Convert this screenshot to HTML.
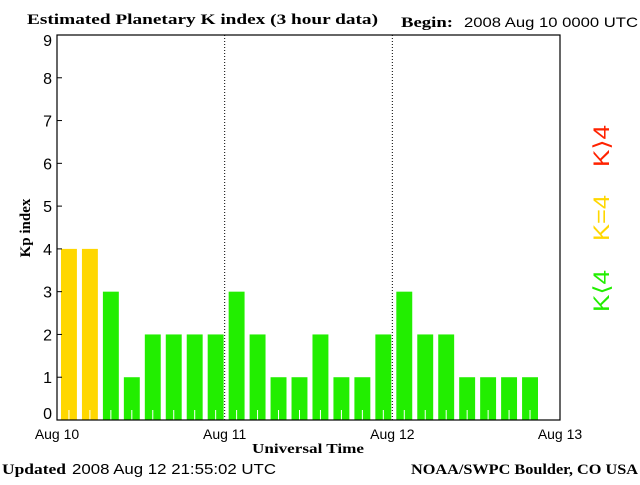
<!DOCTYPE html>
<html><head><meta charset="utf-8"><style>
body{margin:0;background:#fff;}
svg text{font-family:"Liberation Serif",serif;}
</style></head><body>
<svg width="640" height="480" xmlns="http://www.w3.org/2000/svg">
<rect width="640" height="480" fill="#fff"/>
<text x="27" y="24" font-size="15" font-weight="bold" textLength="351" lengthAdjust="spacingAndGlyphs">Estimated Planetary K index (3 hour data)</text>
<text x="401" y="27" font-size="15" font-weight="bold" textLength="52" lengthAdjust="spacingAndGlyphs">Begin:</text>
<text x="464" y="27" font-size="14" textLength="174" lengthAdjust="spacingAndGlyphs" style="font-family:'Liberation Sans',sans-serif">2008 Aug 10 0000 UTC</text>
<g id="bars"></g>
<g id="axes"></g>
<text x="30" y="228" font-size="15" font-weight="bold" transform="rotate(-90 30 228)" text-anchor="middle">Kp index</text>
<text x="308" y="453" font-size="14" font-weight="bold" text-anchor="middle" textLength="112" lengthAdjust="spacingAndGlyphs">Universal Time</text>
<text x="2" y="474" font-size="15" font-weight="bold" textLength="64" lengthAdjust="spacingAndGlyphs">Updated</text>
<text x="72" y="474" font-size="15" textLength="204" lengthAdjust="spacingAndGlyphs" style="font-family:'Liberation Sans',sans-serif">2008 Aug 12 21:55:02 UTC</text>
<text x="411" y="474" font-size="15" font-weight="bold" textLength="227" lengthAdjust="spacingAndGlyphs">NOAA/SWPC Boulder, CO USA</text>
<text x="609" y="312" font-size="22" fill="#22ee00" textLength="42" lengthAdjust="spacingAndGlyphs" transform="rotate(-90 609 312)" style="font-family:'Liberation Sans',sans-serif">K⟨4</text>
<text x="609" y="241" font-size="22" fill="#ffd700" textLength="46" lengthAdjust="spacingAndGlyphs" transform="rotate(-90 609 241)" style="font-family:'Liberation Sans',sans-serif">K=4</text>
<text x="609" y="167" font-size="22" fill="#ff2200" textLength="42" lengthAdjust="spacingAndGlyphs" transform="rotate(-90 609 167)" style="font-family:'Liberation Sans',sans-serif">K⟩4</text>
</svg>
<script>
const kpValues=[4,4,3,1,2,2,2,2,3,2,1,1,2,1,1,2,3,2,2,1,1,1,1];
const yTicks=[0,1,2,3,4,5,6,7,8,9];
const dayLabels=["Aug 10","Aug 11","Aug 12","Aug 13"];
const NS="http://www.w3.org/2000/svg";
const L=57,R=560,T=35,B=420,YMAX=9,NSLOT=24;
const yS=v=>B-(B-T)*v/YMAX;
const xS=i=>L+(R-L)*i/NSLOT;
function mk(tag,at,parent){const e=document.createElementNS(NS,tag);for(const k in at)e.setAttribute(k,at[k]);parent.appendChild(e);return e;}
const bars=document.getElementById('bars'),axes=document.getElementById('axes');
const slot=(R-L)/NSLOT;
kpValues.forEach((v,i)=>{
 const x=xS(i)+slot*0.19,w=slot*0.76;
 const col=v>4?'#ff2200':(v==4?'#ffd700':'#22ee00');
 const r=mk('rect',{x:x,y:yS(v),width:w,height:B-yS(v),fill:col},bars);
 
 
 const t=mk('line',{x1:x+w/2,x2:x+w/2,y1:B-10,y2:B,stroke:'#fff','stroke-width':1},bars);
 
 
});
for(let d=1;d<dayLabels.length-1;d++){
 const x=xS(d*8);
 const l=mk('line',{x1:x,x2:x,y1:T,y2:B,stroke:'#000','stroke-dasharray':'1,2'},axes);
 
 
}
const f=mk('rect',{x:L,y:T,width:R-L,height:B-T,fill:'none',stroke:'#000','stroke-width':1.2},axes);


yTicks.forEach((v,k)=>{
 const y=yS(v);
 const tk=mk('line',{x1:L,x2:L+5,y1:y,y2:y,stroke:'#000'},axes);
 
 
 let ly=y+6;
 if(k===0)ly=y-1;
 if(k===yTicks.length-1)ly=y+11;
 const t=mk('text',{x:L-5,y:ly,'font-size':16,'text-anchor':'end',style:"font-family:'Liberation Sans',sans-serif"},axes);
 t.textContent=v;
 
 
});
dayLabels.forEach((s,d)=>{
 const t=mk('text',{x:xS(d*8),y:439,'font-size':14,'text-anchor':'middle',style:"font-family:'Liberation Sans',sans-serif"},axes);
 t.textContent=s;
 
 
});
</script>
</body></html>
